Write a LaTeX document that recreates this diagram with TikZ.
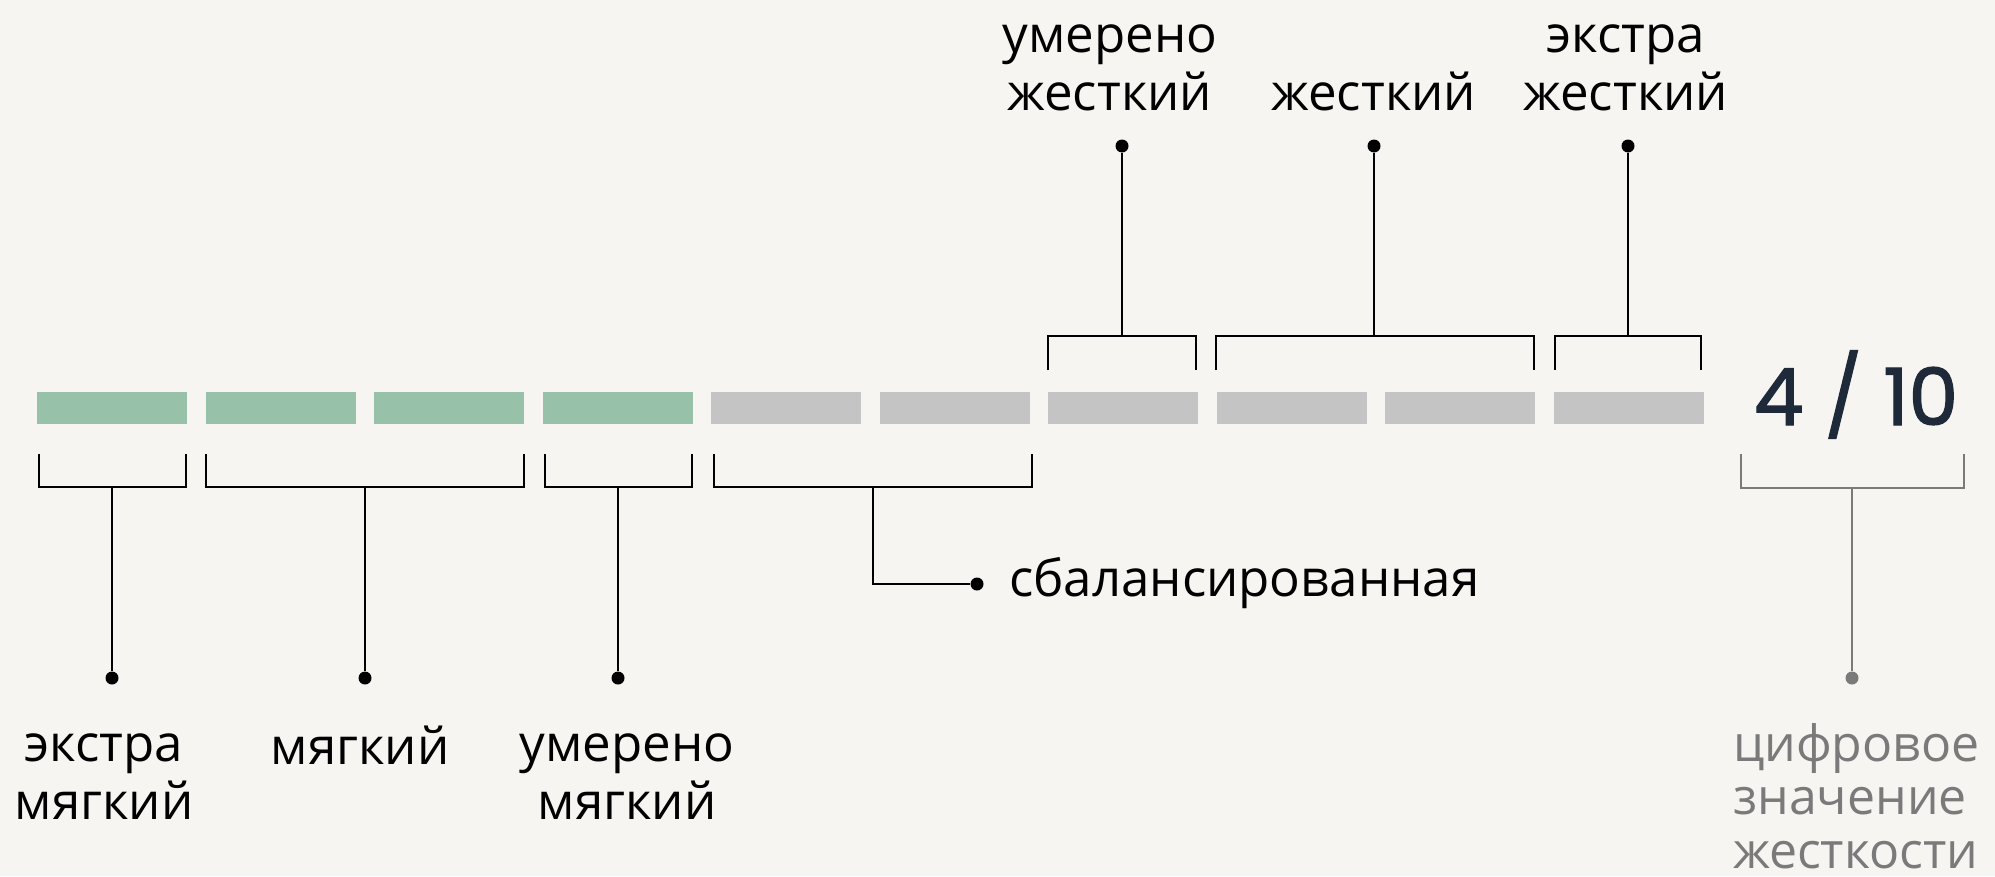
\documentclass[tikz,border=0pt]{standalone}
\usepackage{fontspec}
\setmainfont{Open Sans}
\newfontfamily\numfont[FakeBold=1.6]{Poppins}
\definecolor{paper}{HTML}{F6F5F1}
\definecolor{softgreen}{HTML}{97C1A9}
\definecolor{firmgrey}{HTML}{C4C4C4}
\definecolor{navy}{HTML}{1E2A3A}
\definecolor{notegrey}{HTML}{7A7A7A}

\begin{document}
\begin{tikzpicture}[x=1pt, y=-1pt, every node/.style={inner sep=0pt},
  bar/.style={rectangle, minimum width=150pt, minimum height=32pt},
  softbar/.style={bar, fill=softgreen},
  firmbar/.style={bar, fill=firmgrey},
  pin/.style={circle, fill=black, minimum size=13pt},
  brace/.style={line width=2pt},
  tag/.style={font=\fontsize{51}{58}\selectfont, align=center, anchor=base}]
\useasboundingbox[fill=paper] (0,0) rectangle (1995,876);
% scale
\node[softbar] (B1) at (112,408) {};
\node[softbar] (B2) at (280.5,408) {};
\node[softbar] (B3) at (449,408) {};
\node[softbar] (B4) at (617.5,408) {};
\node[firmbar] (B5) at (786,408) {};
\node[firmbar] (B6) at (954.5,408) {};
\node[firmbar] (B7) at (1123,408) {};
\node[firmbar] (B8) at (1291.5,408) {};
\node[firmbar] (B9) at (1460,408) {};
\node[firmbar] (B10) at (1628.5,408) {};
\node[font=\numfont\fontsize{79}{79}\selectfont, text=navy, anchor=base] (score) at (1856,425) {4 / 10};
% lower brackets
\draw[brace] (39,454) |- (186,487) -- (186,454);
\draw[brace] (206,454) |- (524,487) -- (524,454);
\draw[brace] (545,454) |- (692,487) -- (692,454);
\draw[brace] (714,454) |- (1032,487) -- (1032,454);
\draw[brace, notegrey] (1741,454) |- (1964,488) -- (1964,454);
\coordinate (L1) at (112,487);
\coordinate (L2) at (365,487);
\coordinate (L3) at (618,487);
\coordinate (L4) at (873,487);
\coordinate (L5) at (1852,488);
\node[pin] (P1) at (112,678) {};
\node[pin] (P2) at (365,678) {};
\node[pin] (P3) at (618,678) {};
\node[pin] (P4) at (977,584) {};
\node[pin, fill=notegrey] (P5) at (1852,678) {};
\draw[brace] (L1) -- (P1);
\draw[brace] (L2) -- (P2);
\draw[brace] (L3) -- (P3);
\draw[brace] (L4) |- (P4);
\draw[brace, notegrey] (L5) -- (P5);
% upper brackets
\draw[brace] (1048,370) |- (1196,336) -- (1196,370);
\draw[brace] (1216,370) |- (1534,336) -- (1534,370);
\draw[brace] (1555,370) |- (1701,336) -- (1701,370);
\coordinate (U1) at (1122,336);
\coordinate (U2) at (1374,336);
\coordinate (U3) at (1628,336);
\node[pin] (Q1) at (1122,146) {};
\node[pin] (Q2) at (1374,146) {};
\node[pin] (Q3) at (1628,146) {};
\draw[brace] (U1) -- (Q1);
\draw[brace] (U2) -- (Q2);
\draw[brace] (U3) -- (Q3);
% labels
\node[tag] (extrasoft) at (104,819) {экстра\\мягкий};
\node[tag] (soft) at (360,764) {мягкий};
\node[tag] (modsoft) at (627,819) {умерено\\мягкий};
\node[tag, anchor=base west] (balanced) at (1009,596) {сбалансированная};
\node[tag] (modfirm) at (1110,110) {умерено\\жесткий};
\node[tag] (firm) at (1374,110) {жесткий};
\node[tag] (extrafirm) at (1626,110) {экстра\\жесткий};
\node[tag, anchor=base west, align=left, text=notegrey, font=\fontsize{50}{53.5}\selectfont] (value) at (1733,868) {цифровое\\значение\\жесткости};
\end{tikzpicture}
\end{document}
